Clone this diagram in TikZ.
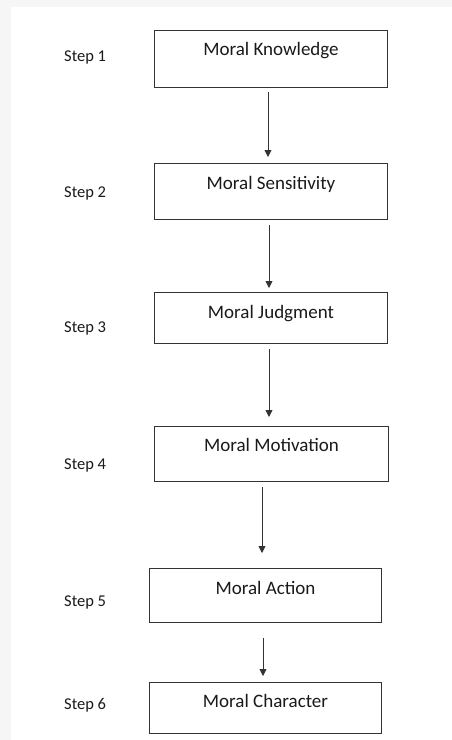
\documentclass[tikz,border=0pt]{standalone}
\usepackage{fontspec}
\setmainfont{Carlito}
\usetikzlibrary{arrows.meta}
\definecolor{bggray}{HTML}{F6F6F6}
\definecolor{linegray}{HTML}{333333}
\definecolor{txt}{HTML}{1A1A1A}
\tikzset{
  box/.style={draw=linegray, line width=1pt, rectangle, anchor=north west, inner sep=0pt},
  boxtext/.style={font=\fontsize{19}{22}\selectfont, text=txt, inner sep=0pt, anchor=base},
  steptext/.style={font=\fontsize{16.5}{19}\selectfont, text=txt, anchor=base west, inner sep=0pt},
  arr/.style={draw=linegray, line width=0.9pt, -{Triangle[length=7pt,width=7pt]}}
}
\begin{document}
\begin{tikzpicture}[x=1pt,y=-1pt]
\useasboundingbox (0,0) rectangle (452,740);
\fill[bggray] (0,0) rectangle (452,740);
\fill[white] (11,7) rectangle (452,740);
% boxes
\node[box, minimum width=233pt, minimum height=57pt] (b1) at (154,30) {};
\node[box, minimum width=233pt, minimum height=56pt] (b2) at (154,163) {};
\node[box, minimum width=233pt, minimum height=51pt] (b3) at (154,292) {};
\node[box, minimum width=234pt, minimum height=55pt] (b4) at (154,426) {};
\node[box, minimum width=232pt, minimum height=54pt] (b5) at (149,568) {};
\node[box, minimum width=232pt, minimum height=51pt] (b6) at (149,682) {};
% box texts
\node[boxtext] (t1) at ([yshift=-25pt]b1.north) {Moral Knowledge};
\node[boxtext] (t2) at ([yshift=-26pt]b2.north) {Moral Sensitivity};
\node[boxtext] (t3) at ([yshift=-26pt]b3.north) {Moral Judgment};
\node[boxtext] (t4) at ([yshift=-25pt]b4.north) {Moral Motivation};
\node[boxtext] (t5) at ([yshift=-26pt]b5.north) {Moral Action};
\node[boxtext] (t6) at ([yshift=-25pt]b6.north) {Moral Character};
% step labels
\node[steptext] (s1) at (64,61) {Step 1};
\node[steptext] (s2) at (64,197) {Step 2};
\node[steptext] (s3) at (64,332) {Step 3};
\node[steptext] (s4) at (64,469) {Step 4};
\node[steptext] (s5) at (64,606) {Step 5};
\node[steptext] (s6) at (64,709) {Step 6};
% arrow endpoints
\coordinate (a1s) at (268,92);  \coordinate (a1e) at (268,157);
\coordinate (a2s) at (269,225); \coordinate (a2e) at (269,288);
\coordinate (a3s) at (269,349); \coordinate (a3e) at (269,417);
\coordinate (a4s) at (262,487); \coordinate (a4e) at (262,553);
\coordinate (a5s) at (263,638); \coordinate (a5e) at (263,676);
\draw[arr] (a1s) -- (a1e);
\draw[arr] (a2s) -- (a2e);
\draw[arr] (a3s) -- (a3e);
\draw[arr] (a4s) -- (a4e);
\draw[arr] (a5s) -- (a5e);
\end{tikzpicture}
\end{document}
